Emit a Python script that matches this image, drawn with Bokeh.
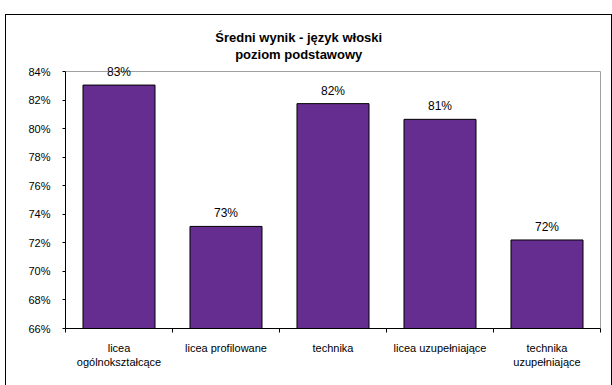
from bokeh.plotting import figure
from bokeh.models import (ColumnDataSource, FixedTicker, LabelSet, Label,
                          Range1d, InlineStyleSheet)
from bokeh.core.properties import value
from bokeh.embed import file_html
from bokeh.resources import INLINE

# ---- data ----
categories = ["licea\nogólnokształcące", "licea profilowane", "technika",
              "licea uzupełniające", "technika\nuzupełniające"]
values = [83.05, 73.15, 81.75, 80.65, 72.2]
y_ticks = [66, 68, 70, 72, 74, 76, 78, 80, 82, 84]
y_tick_labels = [f"{t}%" for t in y_ticks]
title_lines = ["Średni wynik  - język włoski", "poziom  podstawowy"]

FONT = "Liberation Sans"
BAR = "#662D91"
GREY = "#a0a0a0"

W, H = 612, 385
# plotting-area box in page px (the visible 66%..84% region)
AL, AR, AT, AB = 65, 600, 71, 328
FRAME_TOP = 20                      # frame extended upward so texts are not clipped
Y0, Y1 = 66, 84
X0, X1 = 0.5, len(categories) + 0.5
PXY = (AB - AT) / (Y1 - Y0)
PXX = (AR - AL) / (X1 - X0)
YTOP = Y1 + (AT - FRAME_TOP) / PXY
XRIGHT = X1 + 1 / PXX

p = figure(width=W, height=H, output_backend="svg", toolbar_location=None,
           x_range=Range1d(X0, XRIGHT), y_range=Range1d(Y0, YTOP),
           min_border_left=AL, min_border_right=W - (AR + 1),
           min_border_top=FRAME_TOP, min_border_bottom=H - AB)
p.title.text = ""
p.background_fill_color = "white"
p.border_fill_color = "white"
p.outline_line_color = None
p.xgrid.grid_line_color = None
p.ygrid.grid_line_color = None

# grey plot-area border (top and right)
p.line(x=[X0, X1, X1], y=[Y1, Y1, Y0], line_color=GREY, line_width=1)

xs = list(range(1, len(categories) + 1))
src = ColumnDataSource(dict(x=xs, top=values,
                            lab=[f"{round(v):d}%" for v in values]))
p.vbar(x="x", top="top", bottom=Y0, width=0.673, source=src,
       fill_color=BAR, line_color="black", line_width=1)

p.add_layout(LabelSet(x="x", y="top", text="lab", source=src,
                      y_offset=13, text_align="center", text_baseline="middle",
                      text_font=value(FONT), text_font_size=value("12px"),
                      text_color="black"))

# x axis
xa = p.xaxis[0]
xa.bounds = (X0, X1)
xa.ticker = FixedTicker(ticks=xs, minor_ticks=[i + 0.5 for i in range(len(categories) + 1)])
xa.major_label_overrides = {i: c for i, c in zip(xs, categories)}
xa.major_tick_line_color = None
xa.major_tick_out = 0
xa.major_tick_in = 0
xa.minor_tick_line_color = "black"
xa.minor_tick_out = 4
xa.minor_tick_in = 0
xa.major_label_standoff = 9
xa.major_label_text_font = FONT
xa.major_label_text_font_size = "11px"
xa.major_label_text_color = "black"
xa.axis_line_color = "black"

# y axis
ya = p.yaxis[0]
ya.bounds = (Y0, Y1)
ya.ticker = FixedTicker(ticks=y_ticks, minor_ticks=[])
ya.major_label_overrides = {t: l for t, l in zip(y_ticks, y_tick_labels)}
ya.major_tick_out = 3
ya.major_tick_in = 0
ya.major_tick_line_color = "black"
ya.minor_tick_line_color = None
ya.major_label_standoff = 12
ya.major_label_text_font = FONT
ya.major_label_text_font_size = "11px"
ya.major_label_text_color = "black"
ya.axis_line_color = "black"


# helpers: page px -> data
def dx(px):
    return X0 + (px - AL) / PXX


def dy(py):
    return Y1 - (py - AT) / PXY


for i, t in enumerate(title_lines):
    p.add_layout(Label(x=dx(300), y=dy(37 + 17 * i), text=t, text_align="center",
                       text_baseline="middle", text_font=FONT,
                       text_font_size="13px", text_font_style="bold",
                       text_color="black"))

# outer chart-area border (left, top, right)
p.stylesheets = [InlineStyleSheet(css="""
:host::after {
  content: "";
  position: absolute;
  left: 5px; top: 14px; width: 607px; height: 371px;
  box-sizing: border-box;
  border: 1px solid black; border-bottom: none;
  pointer-events: none;
}
""")]

open("out.html", "w").write(file_html(p, INLINE))
